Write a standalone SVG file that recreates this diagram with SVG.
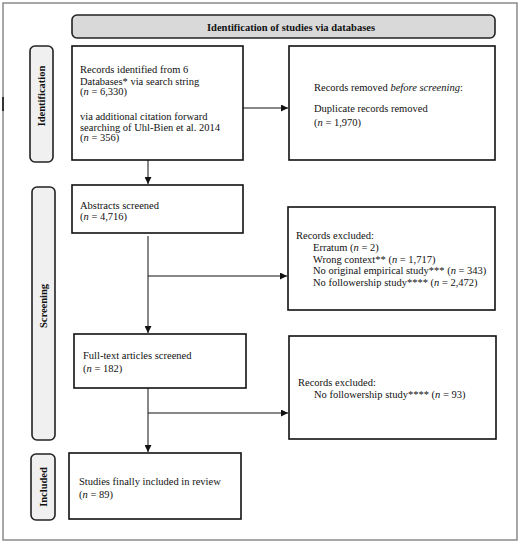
<svg xmlns="http://www.w3.org/2000/svg" width="520" height="542" viewBox="0 0 520 542">
<style>
text{font-family:"Liberation Serif","Times New Roman",serif;font-size:10.5px;fill:#111}
.b{font-weight:bold}
.box{fill:#fff;stroke:#111;stroke-width:1.6}
.side{fill:#f0f0f0;stroke:#222;stroke-width:1.6}
.ln{stroke:#111;stroke-width:1;fill:none}
</style>
<defs>
<marker id="ah" viewBox="0 0 10 10" refX="10" refY="5" markerWidth="7" markerHeight="7" markerUnits="userSpaceOnUse" orient="auto">
<path d="M0,0 L10,5 L0,10 z" fill="#111"/>
</marker>
</defs>
<rect x="3" y="3" width="514" height="537" fill="#fff" stroke="#8a8a8a" stroke-width="1.5"/>
<rect x="2" y="97" width="2" height="14" fill="#333"/>
<g id="header">
<rect x="72" y="15" width="423" height="23" rx="5" fill="#d9d9d9" stroke="#222" stroke-width="1.6"/>
<text class="b" x="291" y="31" text-anchor="middle">Identification of studies via databases</text>
</g>
<g id="label-identification">
<rect class="side" x="30" y="46" width="23" height="116" rx="5"/>
<text class="b" transform="translate(45,96) rotate(-90)" text-anchor="middle">Identification</text>
</g>
<g id="label-screening">
<rect class="side" x="32" y="187" width="23" height="253" rx="5"/>
<text class="b" transform="translate(47,306) rotate(-90)" text-anchor="middle">Screening</text>
</g>
<g id="label-included">
<rect class="side" x="31" y="454" width="24" height="66" rx="5"/>
<text class="b" transform="translate(47,487) rotate(-90)" text-anchor="middle">Included</text>
</g>
<g id="records-identified">
<rect class="box" x="72" y="46" width="171" height="114"/>
<text x="80" y="73">Records identified from 6</text>
<text x="80" y="85">Databases* via search string</text>
<text x="80" y="95">(<tspan font-style="italic">n</tspan> = 6,330)</text>
<text x="80" y="120">via additional citation forward</text>
<text x="80" y="131">searching of Uhl-Bien et al. 2014</text>
<text x="80" y="141">(<tspan font-style="italic">n</tspan> = 356)</text>
</g>
<g id="records-removed">
<rect class="box" x="289" y="46" width="206" height="114"/>
<text x="314" y="91">Records removed <tspan font-style="italic">before screening</tspan>:</text>
<text x="314" y="112">Duplicate records removed</text>
<text x="314" y="126">(<tspan font-style="italic">n</tspan> = 1,970)</text>
</g>
<g id="abstracts-screened">
<rect class="box" x="72" y="185" width="171" height="48"/>
<text x="80" y="209">Abstracts screened</text>
<text x="80" y="220">(<tspan font-style="italic">n</tspan> = 4,716)</text>
</g>
<g id="records-excluded-1">
<rect class="box" x="288" y="207" width="207" height="103"/>
<text x="296" y="239">Records excluded:</text>
<text x="313" y="251">Erratum (<tspan font-style="italic">n</tspan> = 2)</text>
<text x="313" y="263">Wrong context** (<tspan font-style="italic">n</tspan> = 1,717)</text>
<text x="313" y="274">No original empirical study*** (<tspan font-style="italic">n</tspan> = 343)</text>
<text x="313" y="286">No followership study**** (<tspan font-style="italic">n</tspan> = 2,472)</text>
</g>
<g id="fulltext-screened">
<rect class="box" x="74" y="334" width="172" height="54"/>
<text x="83" y="359">Full-text articles screened</text>
<text x="83" y="372">(<tspan font-style="italic">n</tspan> = 182)</text>
</g>
<g id="records-excluded-2">
<rect class="box" x="289" y="336" width="207" height="103"/>
<text x="298" y="386">Records excluded:</text>
<text x="314" y="398">No followership study**** (<tspan font-style="italic">n</tspan> = 93)</text>
</g>
<g id="studies-included">
<rect class="box" x="69" y="453" width="172" height="66"/>
<text x="79" y="485">Studies finally included in review</text>
<text x="79" y="498">(<tspan font-style="italic">n</tspan> = 89)</text>
</g>
<g id="connectors">
<line class="ln" x1="243" y1="108" x2="288" y2="108" marker-end="url(#ah)"/>
<line class="ln" x1="148" y1="160" x2="148" y2="184" marker-end="url(#ah)"/>
<line class="ln" x1="148" y1="236" x2="148" y2="333" marker-end="url(#ah)"/>
<line class="ln" x1="148" y1="276" x2="287" y2="276" marker-end="url(#ah)"/>
<line class="ln" x1="148" y1="388" x2="148" y2="452" marker-end="url(#ah)"/>
<line class="ln" x1="148" y1="413" x2="288" y2="413" marker-end="url(#ah)"/>
</g>
</svg>
